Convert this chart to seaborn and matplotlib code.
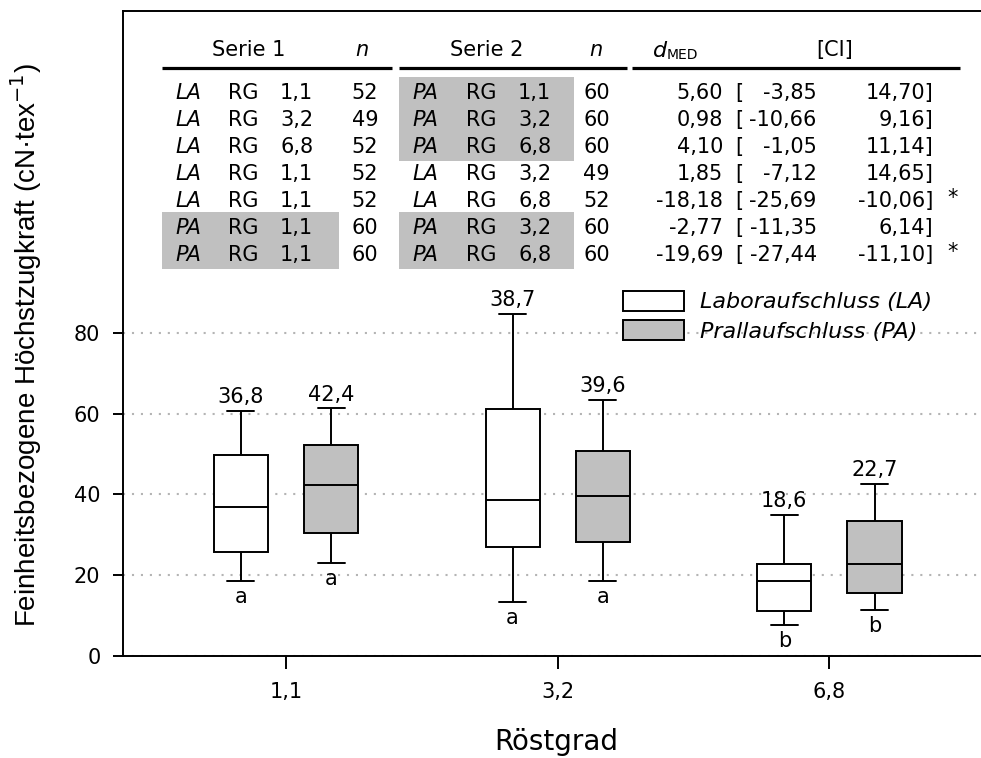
import numpy as np
import pandas as pd
import matplotlib
matplotlib.use("Agg")
import matplotlib.pyplot as plt
import seaborn as sns
from matplotlib.patches import Rectangle

# ---------------- data ----------------
roestgrad = ["1,1", "3,2", "6,8"]
verfahren = ["Laboraufschluss (LA)", "Prallaufschluss (PA)"]

# five-number summaries (whisker min, Q1, median, Q3, whisker max)
la_min = [18.5, 13.2, 7.5]
la_q1 = [25.6, 26.9, 11.1]
la_med = [36.8, 38.7, 18.6]
la_q3 = [49.8, 61.1, 22.6]
la_max = [60.7, 84.8, 35.0]

pa_min = [22.9, 18.5, 11.2]
pa_q1 = [30.3, 28.3, 15.6]
pa_med = [42.4, 39.6, 22.7]
pa_q3 = [52.3, 50.8, 33.3]
pa_max = [61.4, 63.5, 42.6]

la_letters = ["a", "a", "b"]
pa_letters = ["a", "a", "b"]

# comparison table
s1_proc = ["LA", "LA", "LA", "LA", "LA", "PA", "PA"]
s1_rg = ["1,1", "3,2", "6,8", "1,1", "1,1", "1,1", "1,1"]
n1 = [52, 49, 52, 52, 52, 60, 60]
s2_proc = ["PA", "PA", "PA", "LA", "LA", "PA", "PA"]
s2_rg = ["1,1", "3,2", "6,8", "3,2", "6,8", "3,2", "6,8"]
n2 = [60, 60, 60, 49, 52, 60, 60]
d_med = ["5,60", "0,98", "4,10", "1,85", "-18,18", "-2,77", "-19,69"]
ci_lo = ["-3,85", "-10,66", "-1,05", "-7,12", "-25,69", "-11,35", "-27,44"]
ci_hi = ["14,70", "9,16", "11,14", "14,65", "-10,06", "6,14", "-11,10"]
sig = ["", "", "", "", "*", "", "*"]

# ---------------- build long table ----------------
rows = []
for i, rg in enumerate(roestgrad):
    for v in [la_min[i], la_q1[i], la_med[i], la_q3[i], la_max[i]]:
        rows.append({"Röstgrad": rg, "Verfahren": verfahren[0], "value": v})
    for v in [pa_min[i], pa_q1[i], pa_med[i], pa_q3[i], pa_max[i]]:
        rows.append({"Röstgrad": rg, "Verfahren": verfahren[1], "value": v})
df = pd.DataFrame(rows)

# ---------------- style ----------------
sns.set_theme(style="ticks", rc={
    "axes.edgecolor": "black", "xtick.color": "black", "ytick.color": "black",
    "text.color": "black", "axes.labelcolor": "black",
})
plt.rcParams["font.family"] = ["DejaVu Sans"]

W, H = 981, 758
FS = 15
fig = plt.figure(figsize=(W / 100, H / 100), dpi=100)
L, B, T = 123.3, 655.5, 11.0
ax = fig.add_axes([L / W, 1 - B / H, 1 - L / W, (B - T) / H])

GREY = "#c0c0c0"
palette = {verfahren[0]: "white", verfahren[1]: GREY}
WIDTH = 0.664
sns.boxplot(data=df, x="Röstgrad", y="value", hue="Verfahren",
            order=roestgrad, hue_order=verfahren, palette=palette,
            whis=(0, 100), width=WIDTH, gap=0.4, linecolor="black",
            linewidth=1.4, showfliers=False, ax=ax)

ax.set_xlim(-0.599, 2.558)
ax.set_ylim(0, 160)
ax.set_yticks([0, 20, 40, 60, 80])
ax.yaxis.grid(True, color="#b4b4b4", linestyle=(0, (1, 3.3)), linewidth=1.5)
ax.set_axisbelow(True)
for s in ["left", "bottom", "top"]:
    ax.spines[s].set_linewidth(1.4)
    ax.spines[s].set_visible(True)
ax.spines["right"].set_visible(False)
ax.tick_params(axis="y", length=7.5, width=1.4, pad=9, labelsize=FS)
ax.tick_params(axis="x", length=9, width=1.4, pad=10, labelsize=FS)

ax.set_xlabel("Röstgrad", fontsize=20)
ax.xaxis.set_label_coords(0.5045, -0.112)
ax.set_ylabel("Feinheitsbezogene Höchstzugkraft (cN·tex$^{-1}$)", fontsize=20,
              family=["Liberation Sans", "DejaVu Sans"])
ax.yaxis.set_label_coords(-0.093, 0.481)

# annotations: median values above, letters below
off = WIDTH / 4
fmt = lambda v: f"{v:.1f}".replace(".", ",")
for i in range(len(roestgrad)):
    for sgn, mx, mn, md, lt in [(-1, la_max, la_min, la_med, la_letters),
                                (1, pa_max, pa_min, pa_med, pa_letters)]:
        x = i + sgn * off
        ax.annotate(fmt(md[i]), xy=(x, mx[i]), xytext=(0, 5.5),
                    textcoords="offset points", ha="center", va="baseline", fontsize=FS)
        ax.annotate(lt[i], xy=(x, mn[i]), xytext=(0, -15.5),
                    textcoords="offset points", ha="center", va="baseline", fontsize=FS)

sns.move_legend(ax, "upper left", bbox_to_anchor=(623.3 / W, 1 - 291 / H),
                bbox_transform=fig.transFigure, title=None, frameon=False,
                handlelength=2.75, handleheight=0.98, handletextpad=0.7,
                labelspacing=0.35, borderpad=0, borderaxespad=0,
                prop={"style": "italic", "size": FS + 1})

# ---------------- table overlay (pixel coordinates) ----------------
tx = fig.add_axes([0, 0, 1, 1], facecolor="none")
tx.set_xlim(0, W)
tx.set_ylim(H, 0)
tx.axis("off")

# header
hb = 56
tx.text(249, hb, "Serie 1", ha="center", va="baseline", fontsize=FS)
tx.text(361.7, hb, "n", ha="center", va="baseline", fontsize=FS, style="italic")
tx.text(487, hb, "Serie 2", ha="center", va="baseline", fontsize=FS)
tx.text(596, hb, "n", ha="center", va="baseline", fontsize=FS, style="italic")
tx.text(653, hb + 1, "d", ha="left", va="baseline", fontsize=FS + 1, style="italic")
tx.text(667, hb + 3, "MED", ha="left", va="baseline", fontsize=10)
tx.text(835, hb, "[CI]", ha="center", va="baseline", fontsize=FS)
for x0, x1 in [(161.7, 391.7), (399, 627), (632, 960)]:
    tx.plot([x0, x1], [67.7, 67.7], color="black", lw=2.3, solid_capstyle="butt")

base0, step = 99.3, 26.95
for r in range(len(n1)):
    yb = base0 + r * step
    yc = yb - 7.5
    if s1_proc[r] == "PA":
        tx.add_patch(Rectangle((161.7, yc - 15), 339 - 161.7, 30, color=GREY, lw=0, zorder=0))
    if s2_proc[r] == "PA":
        tx.add_patch(Rectangle((399.3, yc - 15), 574 - 399.3, 30, color=GREY, lw=0, zorder=0))
    tx.text(175, yb, s1_proc[r], ha="left", va="baseline", fontsize=FS, style="italic")
    tx.text(228, yb, "RG", ha="left", va="baseline", fontsize=FS)
    tx.text(280, yb, s1_rg[r], ha="left", va="baseline", fontsize=FS)
    tx.text(378.3, yb, str(n1[r]), ha="right", va="baseline", fontsize=FS)
    tx.text(412, yb, s2_proc[r], ha="left", va="baseline", fontsize=FS, style="italic")
    tx.text(465.5, yb, "RG", ha="left", va="baseline", fontsize=FS)
    tx.text(518, yb, s2_rg[r], ha="left", va="baseline", fontsize=FS)
    tx.text(610, yb, str(n2[r]), ha="right", va="baseline", fontsize=FS)
    tx.text(723.3, yb, d_med[r], ha="right", va="baseline", fontsize=FS)
    tx.text(735, yb, "[", ha="left", va="baseline", fontsize=FS)
    tx.text(816.7, yb, ci_lo[r], ha="right", va="baseline", fontsize=FS)
    tx.text(933.3, yb, ci_hi[r] + "]", ha="right", va="baseline", fontsize=FS)
    if sig[r]:
        tx.text(953, yb - 3, sig[r], ha="center", va="baseline", fontsize=FS)

fig.savefig("out.png", dpi=100)
